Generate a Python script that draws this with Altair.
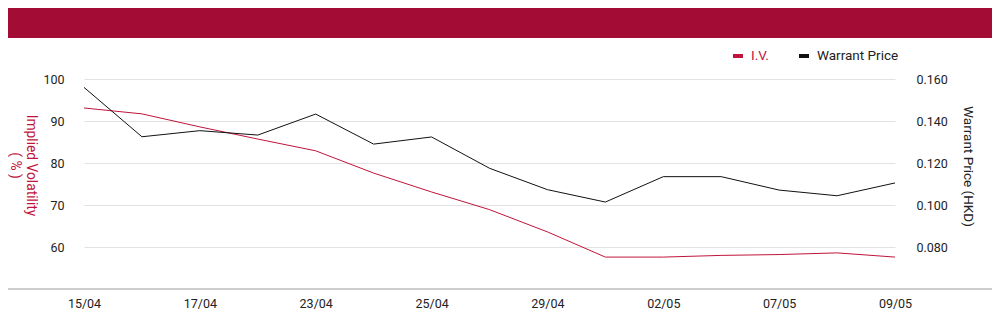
import altair as alt
import pandas as pd

dates = ["15/04", "16/04", "17/04", "18/04", "23/04", "24/04", "25/04", "26/04",
         "29/04", "30/04", "02/05", "03/05", "07/05", "08/05", "09/05"]
shown_dates = ["15/04", "17/04", "23/04", "25/04", "29/04", "02/05", "07/05", "09/05"]
iv = [93.1, 91.7, 88.6, 85.7, 82.9, 77.6, 73.1, 68.9, 63.6, 57.6, 57.6, 58.0, 58.2, 58.6, 57.6]
price = [0.156, 0.1325, 0.1354, 0.1333, 0.1433, 0.129, 0.1324, 0.1175, 0.1073, 0.1014,
         0.1135, 0.1135, 0.1071, 0.1044, 0.1105]
series = ["I.V.", "Warrant Price"]
colors = ["#c0143c", "#111111"]

df = pd.DataFrame({"date": dates, "iv": iv, "price": price})

W, H = 811, 210
RED = "#c0143c"
FONT = "Roboto"

x_enc = alt.X("date:N", sort=dates, scale=alt.Scale(type="point", padding=0),
              axis=alt.Axis(values=shown_dates, title=None, labelAngle=0, ticks=False,
                            domain=False, grid=False, labelPadding=8, labelFontSize=12.5,
                            labelFont=FONT, labelColor="#222"))

color_scale = alt.Scale(domain=series, range=colors)

iv_line = alt.Chart(df).transform_calculate(series="'I.V.'").mark_line(strokeWidth=1).encode(
    x=x_enc,
    y=alt.Y("iv:Q", scale=alt.Scale(domain=[50, 100], nice=False, zero=False),
            axis=alt.Axis(orient="left", values=[60, 70, 80, 90, 100], grid=True,
                          gridColor="#e2e2e2", ticks=False, domain=False,
                          labelPadding=20, labelFontSize=12.5, labelFont=FONT,
                          labelColor="#222",
                          title=["Implied Volatility", "( % )"], titleColor=RED,
                          titleFont=FONT, titleFontSize=13.8, titleFontWeight="normal",
                          titleAngle=90, titleAlign="center", titleBaseline="top",
                          titleX=-47, titleY=86, titleLineHeight=16)),
    color=alt.Color("series:N", scale=color_scale,
                    legend=alt.Legend(title=None, orient="none", direction="horizontal",
                                      legendX=647, legendY=-30, padding=0,
                                      symbolType="stroke", symbolSize=100,
                                      symbolStrokeWidth=4, labelFontSize=13.5,
                                      labelFont=FONT, labelOffset=6, columnPadding=22,
                                      labelColor=alt.ExprRef("datum.label == 'I.V.' ? '" + RED + "' : '#222'"))),
)

price_line = alt.Chart(df).transform_calculate(series="'Warrant Price'").mark_line(strokeWidth=1).encode(
    x=x_enc,
    y=alt.Y("price:Q", scale=alt.Scale(domain=[0.06, 0.16], nice=False, zero=False),
            axis=alt.Axis(orient="right", values=[0.08, 0.10, 0.12, 0.14, 0.16],
                          format=".3f", grid=False, ticks=False, domain=False,
                          labelPadding=21, labelFontSize=12.5, labelFont=FONT,
                          labelColor="#222",
                          title="Warrant Price (HKD)", titleColor="#222",
                          titleFont=FONT, titleFontSize=13.5, titleFontWeight="normal",
                          titleAngle=90, titleAlign="center", titleBaseline="top",
                          titleX=79, titleY=87)),
    color=alt.Color("series:N", scale=color_scale),
)

band = alt.Chart(df).mark_rect(color="#a30d35").encode(
    x=alt.value(-90), x2=alt.value(W + 110), y=alt.value(-85), y2=alt.value(-41.3))

baseline = alt.Chart(df).mark_rule(color="#cccccc", strokeWidth=1).encode(
    x=alt.value(-90), x2=alt.value(W + 110), y=alt.value(H), y2=alt.value(H))

chart = alt.layer(band, baseline, iv_line, price_line).resolve_scale(
    y="independent").properties(
    width=W, height=H,
    autosize=alt.AutoSizeParams(type="none"),
    padding={"left": 76, "top": 71, "right": 97, "bottom": 20},
).configure_view(stroke=None)

chart.save("out.html", embed_options={"renderer": "svg", "actions": False})
